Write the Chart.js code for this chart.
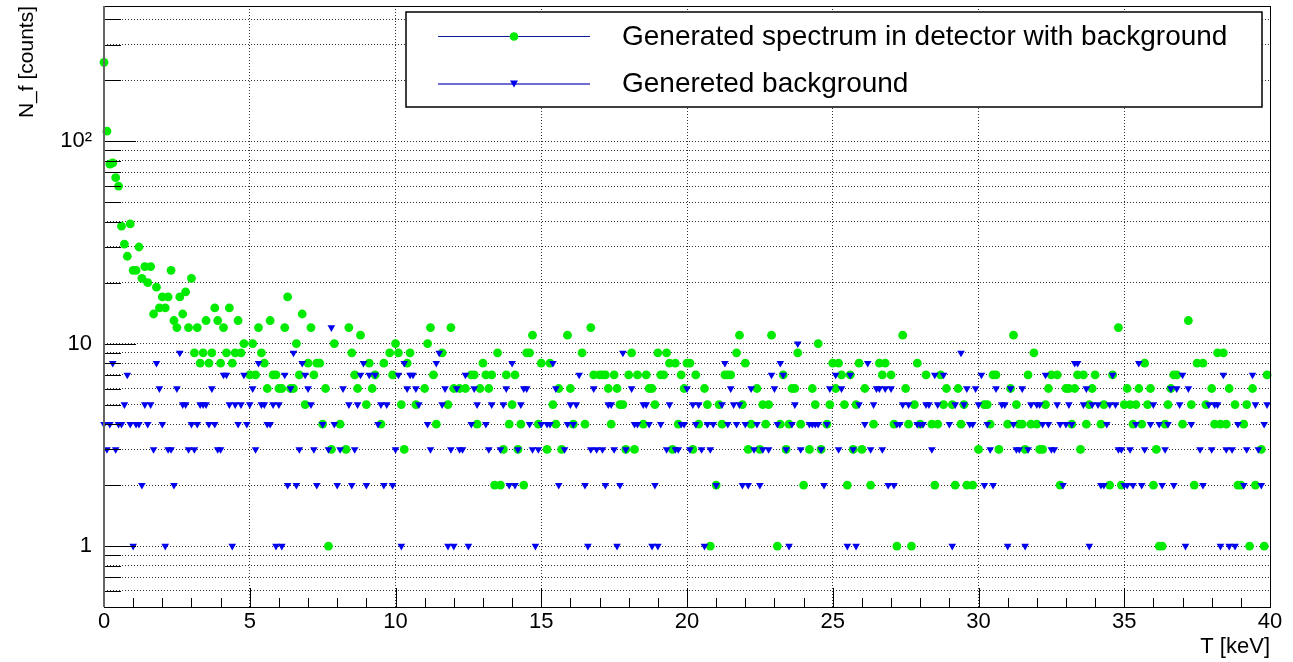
<!DOCTYPE html>
<html>
<head>
<meta charset="utf-8">
<title>Generated spectrum</title>
<script src="https://cdn.jsdelivr.net/npm/chart.js@4.4.1/dist/chart.umd.min.js"></script>
<style>
  html, body { margin: 0; padding: 0; background: #fff; }
  #spectrum { display: block; }
</style>
</head>
<body>
<canvas id="spectrum" width="1293" height="662"></canvas>
<script>
// histogram: 400 bins of 0.1 keV, counts (0 = empty bin)
var binWidth = 0.1;

var spectrumCounts = [
  245,112,77,78,66,60,38,31,27,39,23,23,30,21,24,20,24,14,19,15,
  17,15,17,23,13,12,17,14,18,12,21,9,12,8,9,13,8,9,15,13,
  8,12,9,15,8,9,13,9,10,0,7,10,7,12,9,8,6,13,7,7,
  6,6,12,17,6,6,10,7,14,5,8,12,7,8,8,4,6,1,3,10,
  0,4,0,3,12,9,7,6,11,0,5,8,6,7,0,4,8,0,9,7,
  10,9,5,3,8,9,0,5,0,0,6,10,12,7,4,0,9,0,5,12,
  6,0,6,0,6,0,7,7,4,6,8,7,6,7,2,9,2,3,7,4,
  5,7,3,4,2,9,9,11,0,4,8,0,3,8,5,4,6,3,0,11,
  6,4,0,0,9,4,0,12,7,0,7,7,7,6,4,7,6,5,5,3,
  7,9,3,7,0,4,7,6,6,5,9,7,7,9,8,3,8,4,7,6,
  8,8,3,7,4,0,6,5,1,0,2,5,4,7,7,7,0,9,11,5,
  8,3,4,0,6,3,5,4,5,11,0,1,4,7,3,4,6,6,9,4,
  2,0,3,6,5,10,3,0,4,5,8,6,8,7,5,2,7,3,5,8,
  3,6,0,2,4,0,8,7,8,0,7,4,1,0,11,6,4,1,5,8,
  4,0,7,0,4,2,4,7,5,6,0,5,2,6,4,5,2,0,2,0,
  3,0,5,5,4,7,7,3,0,0,4,6,11,5,4,4,3,7,4,9,
  4,3,3,5,6,7,0,7,2,0,6,6,4,6,7,3,7,4,5,6,
  7,0,4,5,0,2,7,0,12,2,5,6,5,4,5,6,4,8,5,6,
  2,3,1,1,4,5,6,7,7,0,4,0,13,5,2,8,0,8,5,0,
  6,4,9,4,9,4,6,0,5,2,2,4,5,1,6,2,0,3,1,7
];

var backgroundCounts = [
  4,3,4,8,3,4,4,5,7,4,1,4,4,2,5,4,5,3,8,6,
  4,1,3,3,2,6,9,5,5,3,4,3,4,5,5,5,4,6,4,3,
  3,7,7,5,1,5,4,5,7,4,5,6,3,8,5,5,4,4,5,1,
  5,1,7,2,6,9,2,3,8,7,6,5,3,2,0,4,0,3,12,4,
  2,3,6,0,5,2,3,5,7,8,2,7,0,7,4,5,2,5,0,2,
  3,7,1,8,6,7,7,6,5,0,0,4,3,0,8,9,5,6,1,3,
  1,6,3,3,7,1,4,6,5,0,0,4,3,5,0,0,3,5,6,2,
  8,2,3,5,6,6,4,3,1,3,4,0,4,4,8,6,2,0,3,4,
  5,4,5,7,0,2,1,3,6,3,0,3,2,5,5,3,1,2,9,3,
  0,6,4,4,0,5,5,4,1,2,1,4,0,3,5,0,3,3,4,4,
  6,3,5,4,5,3,1,4,3,4,2,0,5,8,4,6,5,4,5,2,
  4,2,6,3,4,2,3,0,3,7,6,4,8,7,3,1,4,5,10,3,
  0,0,4,4,4,4,3,2,4,6,0,7,3,6,0,1,7,3,1,5,
  0,4,8,3,5,6,6,3,6,2,6,2,4,4,5,0,5,0,0,4,
  4,4,5,5,3,7,5,0,7,0,4,1,5,0,9,5,6,4,4,6,
  5,7,2,4,3,2,6,0,5,5,1,6,4,3,3,6,1,3,5,0,
  5,5,4,7,4,3,3,5,4,2,4,5,4,8,8,0,5,6,1,5,
  0,5,2,2,4,5,7,5,3,3,2,2,3,2,4,8,2,3,0,4,
  5,0,4,2,3,4,6,2,6,5,7,1,6,4,0,0,3,2,0,5,
  3,5,5,1,7,3,1,3,1,4,0,2,3,0,7,5,3,2,4,5
];

var seriesNames = ['Generated spectrum in detector with background', 'Genereted background'];

// log axis grid values and the few that carry a label
var yTicks = [0.6,0.7,0.8,0.9,1,2,3,4,5,6,7,8,9,10,20,30,40,50,60,70,80,90,100,200,300,400];
var yLabels = {1: '1', 10: '10', 100: '10\u00b2'};
var xMin = 0, xMax = 40, xStep = 5;

var fontName = '"Liberation Sans", Arial, Helvetica, sans-serif';

function toPoints(counts) {
  var pts = [];
  for (var i = 0; i < counts.length; i++) {
    if (counts[i] > 0) pts.push({x: i * binWidth, y: counts[i]});
  }
  return pts;
}

// ROOT style frame, inner tick marks and the legend box
var rootFrame = {
  id: 'rootFrame',
  afterDraw: function(chart) {
    var ctx = chart.ctx;
    var a = chart.chartArea;
    var xs = chart.scales.x, ys = chart.scales.y;
    ctx.save();
    ctx.strokeStyle = '#000';
    ctx.lineWidth = 1;
    ctx.beginPath();
    yTicks.forEach(function(v) {
      var py = Math.round(ys.getPixelForValue(v)) + 0.5;
      var len = yLabels[v] ? 32 : 17;
      ctx.moveTo(a.left, py);
      ctx.lineTo(a.left + len, py);
    });
    for (var k = xMin + 1; k < xMax; k++) {
      var px = Math.round(xs.getPixelForValue(k)) + 0.5;
      var l = (k % xStep === 0) ? 19 : 9;
      ctx.moveTo(px, a.bottom);
      ctx.lineTo(px, a.bottom - l);
    }
    ctx.stroke();
    ctx.strokeRect(Math.round(a.left) + 0.5, Math.round(a.top) + 0.5,
      Math.round(a.right - a.left), Math.round(a.bottom - a.top));
    ctx.strokeStyle = '#666';
    ctx.lineWidth = 2;
    ctx.beginPath();
    ctx.moveTo(a.left, a.top);
    ctx.lineTo(a.left, a.bottom);
    ctx.stroke();

    // legend
    var bx = 406, by = 12, bw = 856, bh = 95;
    ctx.fillStyle = '#fff';
    ctx.fillRect(bx, by, bw, bh);
    ctx.strokeStyle = '#000';
    ctx.lineWidth = 1.5;
    ctx.strokeRect(bx, by, bw, bh);

    ctx.lineWidth = 1;
    ctx.strokeStyle = '#0a1a9a';
    ctx.beginPath(); ctx.moveTo(438, 36.5); ctx.lineTo(590, 36.5); ctx.stroke();
    ctx.lineWidth = 2;
    ctx.strokeStyle = '#6e6ed2';
    ctx.beginPath(); ctx.moveTo(438, 84); ctx.lineTo(590, 84); ctx.stroke();

    ctx.fillStyle = 'rgb(0,235,0)';
    ctx.beginPath(); ctx.arc(514, 36.5, 4.3, 0, Math.PI * 2); ctx.fill();
    ctx.fillStyle = '#0000ee';
    ctx.beginPath(); ctx.moveTo(510, 80.5); ctx.lineTo(518, 80.5); ctx.lineTo(514, 87.5); ctx.closePath(); ctx.fill();

    ctx.fillStyle = '#000';
    ctx.font = '28px ' + fontName;
    ctx.textBaseline = 'middle';
    ctx.textAlign = 'left';
    ctx.fillText(seriesNames[0], 622, 37);
    ctx.fillText(seriesNames[1], 622, 84);
    ctx.restore();
  }
};

var ctx = document.getElementById('spectrum').getContext('2d');
var chart = new Chart(ctx, {
  type: 'scatter',
  data: {
    datasets: [{
      label: seriesNames[1],
      data: toPoints(backgroundCounts),
      pointStyle: 'triangle',
      rotation: 180,
      pointRadius: 4.4,
      backgroundColor: '#0000ee',
      borderColor: '#0000ee',
      borderWidth: 0,
      clip: false
    }, {
      label: seriesNames[0],
      data: toPoints(spectrumCounts),
      pointStyle: 'circle',
      pointRadius: 4.4,
      backgroundColor: 'rgb(0,235,0)',
      borderColor: 'rgb(0,235,0)',
      borderWidth: 0,
      clip: false
    }]
  },
  options: {
    responsive: false,
    animation: false,
    devicePixelRatio: 1,
    events: [],
    layout: { padding: { top: 6, right: 23, bottom: 0, left: 0 } },
    plugins: {
      legend: { display: false },
      tooltip: { enabled: false }
    },
    scales: {
      x: {
        type: 'linear',
        min: xMin,
        max: xMax,
        afterFit: function(scale) {
          scale.height = 55;
          scale.paddingLeft = 0;
          scale.paddingRight = 0;
        },
        grid: { color: 'rgba(0,0,0,0.8)', lineWidth: 1, drawTicks: false },
        border: { display: false, dash: [1, 2] },
        ticks: {
          stepSize: xStep,
          padding: 2,
          color: '#000',
          font: { family: fontName, size: 22 }
        },
        title: {
          display: true,
          text: 'T [keV]',
          align: 'end',
          color: '#000',
          padding: { top: 0, bottom: 2 },
          font: { family: fontName, size: 22 }
        }
      },
      y: {
        type: 'logarithmic',
        min: 0.5,
        max: 465,
        afterFit: function(scale) {
          scale.width = 104;
          scale.paddingTop = 0;
          scale.paddingBottom = 0;
        },
        afterBuildTicks: function(scale) {
          scale.ticks = yTicks.map(function(v) { return { value: v }; });
        },
        grid: { color: 'rgba(0,0,0,0.8)', lineWidth: 1, drawTicks: false },
        border: { display: false, dash: [1, 2] },
        ticks: {
          padding: 12,
          autoSkip: false,
          color: '#000',
          font: { family: fontName, size: 22 },
          callback: function(value) { return yLabels[value] || ''; }
        },
        title: {
          display: true,
          text: 'N_f [counts]',
          align: 'end',
          color: '#000',
          padding: { top: 15, bottom: 0 },
          font: { family: fontName, size: 21 }
        }
      }
    }
  },
  plugins: [rootFrame]
});
</script>
</body>
</html>
